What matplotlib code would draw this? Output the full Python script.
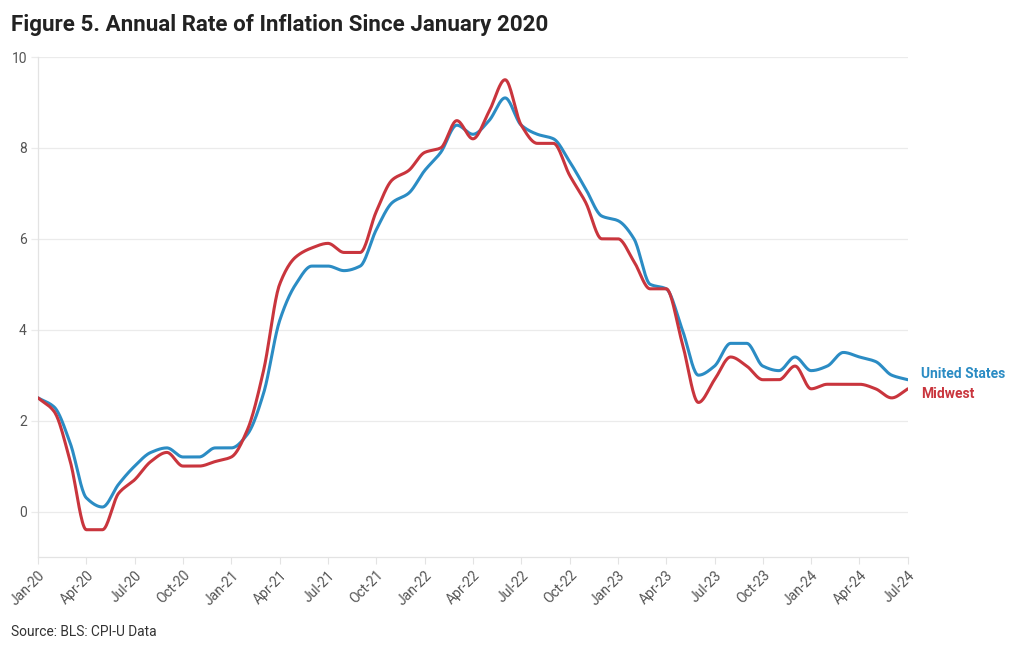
import numpy as np
import matplotlib
matplotlib.use("Agg")
from matplotlib import pyplot as plt

plt.rcParams['font.family'] = ['Roboto', 'DejaVu Sans']

# monthly, Jan 2020 .. Jul 2024
months = ["Jan-20", "Feb-20", "Mar-20", "Apr-20", "May-20", "Jun-20", "Jul-20", "Aug-20", "Sep-20", "Oct-20", "Nov-20", "Dec-20",
          "Jan-21", "Feb-21", "Mar-21", "Apr-21", "May-21", "Jun-21", "Jul-21", "Aug-21", "Sep-21", "Oct-21", "Nov-21", "Dec-21",
          "Jan-22", "Feb-22", "Mar-22", "Apr-22", "May-22", "Jun-22", "Jul-22", "Aug-22", "Sep-22", "Oct-22", "Nov-22", "Dec-22",
          "Jan-23", "Feb-23", "Mar-23", "Apr-23", "May-23", "Jun-23", "Jul-23", "Aug-23", "Sep-23", "Oct-23", "Nov-23", "Dec-23",
          "Jan-24", "Feb-24", "Mar-24", "Apr-24", "May-24", "Jun-24", "Jul-24"]

us = [2.5, 2.3, 1.5, 0.3, 0.1, 0.6, 1.0, 1.3, 1.4, 1.2, 1.2, 1.4,
      1.4, 1.7, 2.6, 4.2, 5.0, 5.4, 5.4, 5.3, 5.4, 6.2, 6.8, 7.0,
      7.5, 7.9, 8.5, 8.3, 8.6, 9.1, 8.5, 8.3, 8.2, 7.7, 7.1, 6.5,
      6.4, 6.0, 5.0, 4.9, 4.0, 3.0, 3.2, 3.7, 3.7, 3.2, 3.1, 3.4,
      3.1, 3.2, 3.5, 3.4, 3.3, 3.0, 2.9]
midwest = [2.5, 2.2, 1.1, -0.4, -0.4, 0.4, 0.7, 1.1, 1.3, 1.0, 1.0, 1.1,
           1.2, 1.8, 3.1, 5.0, 5.6, 5.8, 5.9, 5.7, 5.7, 6.6, 7.3, 7.5,
           7.9, 8.0, 8.6, 8.2, 8.8, 9.5, 8.5, 8.1, 8.1, 7.4, 6.8, 6.0,
           6.0, 5.5, 4.9, 4.9, 3.7, 2.4, 2.9, 3.4, 3.2, 2.9, 2.9, 3.2,
           2.7, 2.8, 2.8, 2.8, 2.7, 2.5, 2.7]

series_names = ["United States", "Midwest"]
colors = ["#2b8cc4", "#c9353d"]


def monotone(x, y, n=20):
    # monotone cubic (Fritsch-Carlson) for the curved line look
    x = np.asarray(x, float)
    y = np.asarray(y, float)
    h = np.diff(x)
    d = np.diff(y) / h
    m = np.zeros_like(y)
    m[0], m[-1] = d[0], d[-1]
    for i in range(1, len(y) - 1):
        if d[i - 1] * d[i] <= 0:
            m[i] = 0
        else:
            m[i] = 3 * (h[i - 1] + h[i]) / ((2 * h[i] + h[i - 1]) / d[i - 1] + (h[i] + 2 * h[i - 1]) / d[i])
    xs, ys = [], []
    for i in range(len(x) - 1):
        t = np.linspace(0, 1, n, endpoint=False)
        h00 = 2 * t**3 - 3 * t**2 + 1
        h10 = t**3 - 2 * t**2 + t
        h01 = -2 * t**3 + 3 * t**2
        h11 = t**3 - t**2
        xs.append(x[i] + t * h[i])
        ys.append(h00 * y[i] + h10 * h[i] * m[i] + h01 * y[i + 1] + h11 * h[i] * m[i + 1])
    xs.append([x[-1]])
    ys.append([y[-1]])
    return np.concatenate(xs), np.concatenate(ys)


fig = plt.figure(figsize=(10.2, 6.5), dpi=100)
ax = fig.add_axes([0.0373, 0.1431, 0.8527, 0.7692])

x = np.arange(len(months))
for vals, c in zip([us, midwest], colors):
    sx, sy = monotone(x, vals)
    ax.plot(sx, sy, color=c, lw=2.2, solid_capstyle='round', zorder=3)

ax.set_xlim(0, len(months) - 1)
ax.set_ylim(-1, 10)
ax.set_yticks([0, 2, 4, 6, 8, 10])
ax.grid(axis='y', color='#ebebeb', lw=0.9)
ax.set_axisbelow(True)

ax.set_xticks(x[::3])
ax.set_xticklabels(months[::3], rotation=45, ha='right', rotation_mode='anchor')
ax.tick_params(axis='x', colors='#e3e3e3', labelcolor='#555555', labelsize=10, length=5, width=0.8, pad=3)
ax.tick_params(axis='y', colors='#ebebeb', labelcolor='#555555', labelsize=10, length=5, width=0.9, pad=3)

for s in ['top', 'right']:
    ax.spines[s].set_visible(False)
for s in ['left', 'bottom']:
    ax.spines[s].set_color('#e3e3e3')
    ax.spines[s].set_linewidth(0.9)

# end labels
ax.annotate(series_names[0], xy=(x[-1], us[-1]), xytext=(9.5, 4), textcoords='offset points',
            color=colors[0], fontsize=10, fontweight='bold', va='center', ha='left')
ax.annotate(series_names[1], xy=(x[-1], midwest[-1]), xytext=(9.5, -4), textcoords='offset points',
            color=colors[1], fontsize=10, fontweight='bold', va='center', ha='left')

fig.text(0.011, 0.962, "Figure 5. Annual Rate of Inflation Since January 2020", fontsize=16.1,
         fontweight='bold', color='#222222', va='center', ha='left')
fig.text(0.011, 0.028, "Source: BLS: CPI-U Data", fontsize=9.9, color='#333333', va='center', ha='left')

fig.savefig("out.png", dpi=100)
